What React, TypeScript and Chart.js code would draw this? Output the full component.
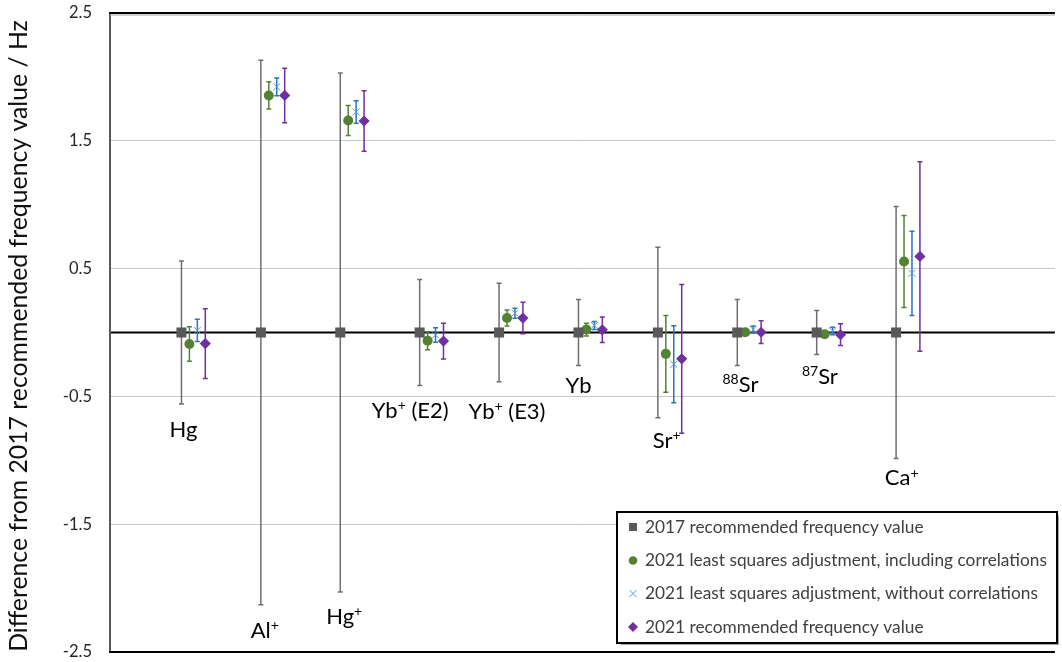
import React, { useEffect, useRef } from 'react';
import { Chart, registerables } from 'chart.js';
Chart.register(...registerables);

const FONT = 'Lato, "Open Sans", sans-serif';

// Categories (clock species), in plot order
const categories = ['Hg', 'Al+', 'Hg+', 'Yb+ (E2)', 'Yb+ (E3)', 'Yb', 'Sr+', '88Sr', '87Sr', 'Ca+'];
const categoryPositions = [1, 2, 3, 4, 5, 6, 7, 8, 9, 10];

// Series names
const seriesNames = [
  '2017 recommended frequency value',
  '2021 least squares adjustment, including correlations',
  '2021 least squares adjustment, without correlations',
  '2021 recommended frequency value',
];
const seriesOffsets = [-0.1, 0, 0.1, 0.2];

// Values (Hz) and uncertainties (Hz)
const values2017 = [0, 0, 0, 0, 0, 0, 0, 0, 0, 0];
const errors2017 = [0.56, 2.13, 2.03, 0.415, 0.385, 0.258, 0.668, 0.258, 0.172, 0.986];
const valuesLsqCorr = [-0.09, 1.855, 1.659, -0.065, 0.114, 0.023, -0.167, 0.002, -0.013, 0.556];
const errorsLsqCorr = [0.135, 0.107, 0.117, 0.07, 0.063, 0.05, 0.3, 0.02, 0.02, 0.36];
const valuesLsqNoCorr = [0.017, 1.922, 1.726, -0.02, 0.151, 0.055, -0.249, 0.024, 0.012, 0.463];
const errorsLsqNoCorr = [0.087, 0.07, 0.088, 0.057, 0.039, 0.032, 0.301, 0.026, 0.03, 0.33];
const values2021 = [-0.087, 1.855, 1.655, -0.067, 0.113, 0.021, -0.206, 0.002, -0.017, 0.595];
const errors2021 = [0.272, 0.213, 0.236, 0.14, 0.123, 0.1, 0.582, 0.089, 0.085, 0.742];

const seriesValues = [values2017, valuesLsqCorr, valuesLsqNoCorr, values2021];
const seriesErrors = [errors2017, errorsLsqCorr, errorsLsqNoCorr, errors2021];

// Y axis ticks
const yTicks = [-2.5, -1.5, -0.5, 0.5, 1.5, 2.5];

// Category label anchors (data units: x centre, y baseline)
const labelX = [0.925, 1.95, 2.95, 3.78, 5.0, 5.9, 7.01, 7.94, 8.94, 9.97];
const labelY = [-0.814, -2.387, -2.277, -0.67, -0.673, -0.475, -0.9, -0.467, -0.401, -1.197];

// Styles
const markerStyles = ['rect', 'circle', 'crossRot', 'rectRot'];
const markerRadius = [7.1, 5, 5, 5.6];
const markerFill = ['#595959', '#548235', '#5b9bd5', '#7030a0'];
const barColors = ['#6f6f6f', '#548235', '#2e75b6', '#7030a0'];

type Part = { t: string; sup: boolean };
function parseLabel(s: string): Part[] {
  const m = s.match(/^(\d+)(.*)$/);
  if (m) return [{ t: m[1], sup: true }, { t: m[2], sup: false }];
  const parts: Part[] = [];
  const idx = s.indexOf('+');
  if (idx >= 0) {
    parts.push({ t: s.slice(0, idx), sup: false });
    parts.push({ t: '+', sup: true });
    if (idx + 1 < s.length) parts.push({ t: s.slice(idx + 1), sup: false });
  } else parts.push({ t: s, sup: false });
  return parts;
}

function drawRich(ctx: CanvasRenderingContext2D, s: string, cx: number, baseY: number, size: number) {
  const parts = parseLabel(s);
  const sup = Math.round(size * 0.65);
  const widths = parts.map((p) => {
    ctx.font = `${p.sup ? sup : size}px ${FONT}`;
    return ctx.measureText(p.t).width;
  });
  const total = widths.reduce((a, b) => a + b, 0);
  let x = cx - total / 2;
  ctx.textAlign = 'left';
  ctx.textBaseline = 'alphabetic';
  parts.forEach((p, i) => {
    ctx.font = `${p.sup ? sup : size}px ${FONT}`;
    ctx.fillText(p.t, x, p.sup ? baseY - size * 0.36 : baseY);
    x += widths[i];
  });
}

const framePlugin = {
  id: 'frame',
  beforeDatasetsDraw(chart: any) {
    const { ctx, chartArea: a, scales } = chart;
    const y0 = scales.y.getPixelForValue(0);
    ctx.save();
    // zero line
    ctx.strokeStyle = '#000';
    ctx.lineWidth = 2;
    ctx.beginPath();
    ctx.moveTo(a.left, y0);
    ctx.lineTo(a.right, y0);
    ctx.stroke();
    // left axis
    ctx.strokeStyle = '#595959';
    ctx.lineWidth = 2;
    ctx.beginPath();
    ctx.moveTo(a.left, a.top);
    ctx.lineTo(a.left, a.bottom);
    ctx.stroke();
    // top border with shadow
    ctx.strokeStyle = '#a6a6a6';
    ctx.lineWidth = 1;
    ctx.beginPath();
    ctx.moveTo(a.left, a.top + 2);
    ctx.lineTo(a.right, a.top + 2);
    ctx.stroke();
    ctx.strokeStyle = '#000';
    ctx.lineWidth = 2;
    ctx.beginPath();
    ctx.moveTo(a.left - 1, a.top);
    ctx.lineTo(a.right, a.top);
    ctx.stroke();
    // bottom border
    ctx.beginPath();
    ctx.moveTo(a.left - 1, a.bottom);
    ctx.lineTo(a.right, a.bottom);
    ctx.stroke();
    // error bars
    chart.data.datasets.forEach((ds: any, d: number) => {
      const meta = chart.getDatasetMeta(d);
      ctx.strokeStyle = barColors[d];
      ctx.lineWidth = 1.5;
      meta.data.forEach((el: any, i: number) => {
        const v = seriesValues[d][i];
        const e = seriesErrors[d][i];
        const yt = scales.y.getPixelForValue(v + e);
        const yb = scales.y.getPixelForValue(v - e);
        const x = el.x;
        ctx.beginPath();
        ctx.moveTo(x, yt);
        ctx.lineTo(x, yb);
        ctx.moveTo(x - 2.5, yt);
        ctx.lineTo(x + 2.5, yt);
        ctx.moveTo(x - 2.5, yb);
        ctx.lineTo(x + 2.5, yb);
        ctx.stroke();
      });
    });
    ctx.restore();
  },
  afterDraw(chart: any) {
    const { ctx, scales } = chart;
    ctx.save();
    // axis title
    const title = 'Difference from 2017 recommended frequency value / Hz';
    ctx.font = `20px ${FONT}`;
    const w = ctx.measureText(title).width;
    const size = (20 * 632) / w;
    ctx.font = `${size}px ${FONT}`;
    ctx.translate(19, 336);
    ctx.rotate(-Math.PI / 2);
    ctx.fillStyle = '#111';
    ctx.textAlign = 'center';
    ctx.textBaseline = 'middle';
    ctx.fillText(title, 0, 0);
    ctx.restore();

    // category labels
    ctx.save();
    ctx.fillStyle = '#000';
    categories.forEach((c, i) => {
      drawRich(ctx, c, scales.x.getPixelForValue(labelX[i]), scales.y.getPixelForValue(labelY[i]), 22);
    });
    ctx.restore();

    // legend
    ctx.save();
    const lx = 617, ly = 512, lw = 440, lh = 131;
    ctx.shadowColor = 'rgba(0,0,0,0.35)';
    ctx.shadowOffsetX = 1.5;
    ctx.shadowOffsetY = 1.5;
    ctx.shadowBlur = 1;
    ctx.fillStyle = '#fff';
    ctx.fillRect(lx, ly, lw, lh);
    ctx.shadowColor = 'transparent';
    ctx.strokeStyle = '#000';
    ctx.lineWidth = 2;
    ctx.strokeRect(lx, ly, lw, lh);
    const rows = [527, 560.5, 593.5, 627];
    seriesNames.forEach((n, s) => {
      const my = rows[s];
      const mx = 633;
      ctx.fillStyle = markerFill[s];
      ctx.strokeStyle = markerFill[s];
      if (s === 0) ctx.fillRect(mx - 4, my - 4, 8, 8);
      else if (s === 1) {
        ctx.beginPath();
        ctx.arc(mx, my, 4.3, 0, Math.PI * 2);
        ctx.fill();
      } else if (s === 2) {
        ctx.lineWidth = 1;
        ctx.beginPath();
        ctx.moveTo(mx - 3.5, my - 3.5);
        ctx.lineTo(mx + 3.5, my + 3.5);
        ctx.moveTo(mx + 3.5, my - 3.5);
        ctx.lineTo(mx - 3.5, my + 3.5);
        ctx.stroke();
      } else {
        ctx.beginPath();
        ctx.moveTo(mx, my - 5);
        ctx.lineTo(mx + 5, my);
        ctx.lineTo(mx, my + 5);
        ctx.lineTo(mx - 5, my);
        ctx.closePath();
        ctx.fill();
      }
      ctx.fillStyle = '#404040';
      ctx.font = `17.3px ${FONT}`;
      ctx.textAlign = 'left';
      ctx.textBaseline = 'middle';
      ctx.fillText(n, 645, my);
    });
    ctx.restore();
  },
};

export default function App() {
  const ref = useRef<HTMLCanvasElement>(null);
  useEffect(() => {
    const canvas = ref.current!;
    const chart = new Chart(canvas, {
      type: 'scatter',
      data: {
        datasets: seriesNames.map((name, s) => ({
          label: name,
          data: categoryPositions.map((c, i) => ({ x: c + seriesOffsets[s], y: seriesValues[s][i] })),
          pointStyle: markerStyles[s] as any,
          pointRadius: markerRadius[s],
          pointHoverRadius: markerRadius[s],
          backgroundColor: markerFill[s],
          borderColor: markerFill[s],
          borderWidth: s === 2 ? 1 : 0,
          showLine: false,
        })),
      },
      options: {
        animation: false,
        responsive: false,
        devicePixelRatio: 1,
        events: [],
        layout: { padding: { top: 13, bottom: 10, left: 0, right: 0 } },
        plugins: { legend: { display: false }, tooltip: { enabled: false } },
        scales: {
          x: { type: 'linear', display: false, min: 0, max: 11.9 },
          y: {
            type: 'linear',
            min: yTicks[0],
            max: yTicks[yTicks.length - 1],
            afterBuildTicks: (scale: any) => {
              scale.ticks = yTicks.map((v) => ({ value: v }));
            },
            ticks: {
              padding: 18,
              color: '#262626',
              font: { family: FONT, size: 16.5 },
              callback: (v: any) => Number(v).toFixed(1),
            },
            grid: {
              drawTicks: false,
              color: (c: any) => (c.tick && Math.abs(c.tick.value) > 2.4 ? 'rgba(0,0,0,0)' : '#c6c6c6'),
              lineWidth: 1,
            },
            border: { display: false },
            afterFit: (scale: any) => {
              scale.width = 110;
              scale.paddingTop = 0;
              scale.paddingBottom = 0;
            },
          },
        },
      },
      plugins: [framePlugin],
    });
    return () => chart.destroy();
  }, []);
  return (
    <div style={{ position: 'fixed', left: 0, top: 0, width: 1062, height: 662, background: '#fff' }}>
      <canvas ref={ref} width={1062} height={662} style={{ display: 'block' }} />
    </div>
  );
}
